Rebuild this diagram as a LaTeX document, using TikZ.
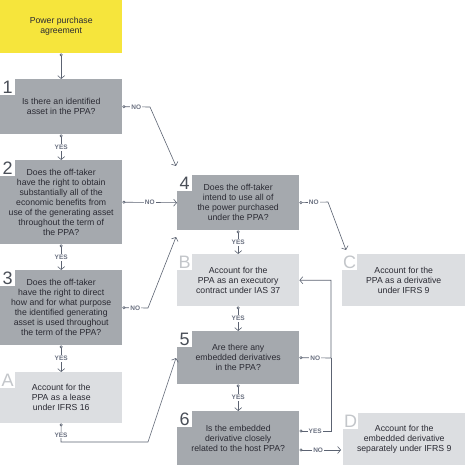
\documentclass[tikz,border=0pt]{standalone}
\usepackage{fontspec}
\setmainfont{Liberation Sans}
\usetikzlibrary{arrows.meta}

\definecolor{ppayellow}{HTML}{F6E53C}
\definecolor{askgray}{HTML}{A5A9AE}
\definecolor{endgray}{HTML}{DCDEE1}
\definecolor{inkgray}{HTML}{2A2A33}
\definecolor{linkgray}{HTML}{5C6372}
\definecolor{tickgray}{HTML}{6A7080}
\definecolor{tagdark}{HTML}{4A4F58}
\definecolor{taglight}{HTML}{C3C6CA}

\tikzset{
  box/.style={anchor=north west, inner sep=0pt, minimum width=122pt, align=center,
    text=inkgray, font=\fontsize{8.7}{10}\selectfont},
  ask/.style={box, fill=askgray},
  result/.style={box, fill=endgray},
  tag/.style={anchor=north west, fill=white, inner sep=0pt, minimum width=15pt,
    minimum height=16pt, font=\fontsize{18}{18}\selectfont},
  link/.style={draw=linkgray, line width=0.6pt,
    {Circle[open,length=3pt]}-{Straight Barb[length=3pt,width=7pt]}},
  plain/.style={draw=linkgray, line width=0.6pt, {Circle[open,length=3pt]}-},
  lbl/.style={fill=white, inner sep=1pt, text=tickgray,
    font=\fontsize{6.5}{6.5}\selectfont\bfseries},
}

\begin{document}
\begin{tikzpicture}[x=1pt, y=-1pt]
  \useasboundingbox (0,0) rectangle (465,465);

  % Start
  \node[box, fill=ppayellow, minimum height=53pt] (ppa) at (0,0) {Power purchase\\agreement};

  % Left column
  \node[ask, minimum height=55pt] (q1) at (0,79) {Is there an identified\\asset in the PPA?};
  \node[ask, minimum height=84pt] (q2) at (0,160) {Does the off-taker\\have the right to obtain\\substantially all of the\\economic benefits from\\use of the generating asset\\throughout the term of\\the PPA?};
  \node[ask, minimum height=75pt] (q3) at (0,270) {Does the off-taker\\have the right to direct\\how and for what purpose\\the identified generating\\asset is used throughout\\the term of the PPA?};
  \node[result, minimum height=51pt] (oA) at (0,372) {Account for the\\PPA as a lease\\under IFRS 16};

  % Middle column
  \node[ask, minimum height=55pt] (q4) at (177,175) {Does the off-taker\\intend to use all of\\the power purchased\\under the PPA?};
  \node[result, minimum height=52pt] (oB) at (177,254) {Account for the\\PPA as an executory\\contract under IAS 37};
  \node[ask, minimum height=53pt] (q5) at (177,331) {Are there any\\embedded derivatives\\in the PPA?};
  \node[ask, minimum height=54pt] (q6) at (177,411) {Is the embedded\\derivative closely\\related to the host PPA?};

  % Right column
  \node[result, minimum height=52pt, minimum width=123pt] (oC) at (342,254) {Account for the\\PPA as a derivative\\under IFRS 9};
  \node[result, minimum height=52pt] (oD) at (343,413) {Account for the\\embedded derivative\\separately under IFRS 9};

  % Step tags
  \node[tag, text=tagdark] (n1) at (q1.north west) {1};
  \node[tag, text=tagdark] (n2) at (q2.north west) {2};
  \node[tag, text=tagdark] (n3) at (q3.north west) {3};
  \node[tag, text=tagdark] (n4) at (q4.north west) {4};
  \node[tag, text=tagdark] (n5) at (q5.north west) {5};
  \node[tag, text=tagdark] (n6) at (q6.north west) {6};
  \node[tag, text=taglight] (nA) at (oA.north west) {A};
  \node[tag, text=taglight] (nB) at (oB.north west) {B};
  \node[tag, text=taglight] (nC) at (oC.north west) {C};
  \node[tag, text=taglight] (nD) at (oD.north west) {D};

  % Bends and loose ends
  \coordinate (k1) at (150,107);
  \coordinate (e1) at (176,166);
  \coordinate (k3) at (148,308);
  \coordinate (e3) at (176,237);
  \coordinate (kA1) at (61,442);
  \coordinate (kA2) at (148,442);
  \coordinate (eA) at (176,358);
  \coordinate (k4) at (328,202);
  \coordinate (e4) at (346,250);
  \coordinate (k5) at (331,358);
  \coordinate (k6) at (331,431);
  \coordinate (e6) at (341,450);

  % Connectors
  \draw[link] (ppa.south) -- (q1.north);
  \draw[link] (q1.south) -- node[lbl] {YES} (q2.north);
  \draw[link] (q2.south) -- node[lbl] {YES} (q3.north);
  \draw[link] (q3.south) -- node[lbl] {YES} (oA.north);
  \draw[link] (q1.east) -- node[lbl] {NO} (k1) -- (e1);
  \draw[link] (q2.east) -- node[lbl] {NO} (q4.west);
  \draw[link] (q3.east) -- node[lbl] {NO} (k3) -- (e3);
  \draw[link] (oA.south) -- node[lbl, pos=0.62] {YES} (kA1) -- (kA2) -- (eA);
  \draw[link] (q4.south) -- node[lbl] {YES} (oB.north);
  \draw[link] (q4.east) -- node[lbl] {NO} (k4) -- (e4);
  \draw[link] (oB.south) -- node[lbl] {YES} (q5.north);
  \draw[link] (q5.south) -- node[lbl] {YES} (q6.north);
  \draw[link] (q5.east) -- node[lbl] {NO} (k5) -- (k5 |- oB.east) -- (oB.east);
  \draw[plain] (q6.east |- k6) -- node[lbl] {YES} (k6) -- (k5);
  \draw[link] (q6.east |- e6) -- node[lbl, pos=0.45] {NO} (e6);
\end{tikzpicture}
\end{document}
